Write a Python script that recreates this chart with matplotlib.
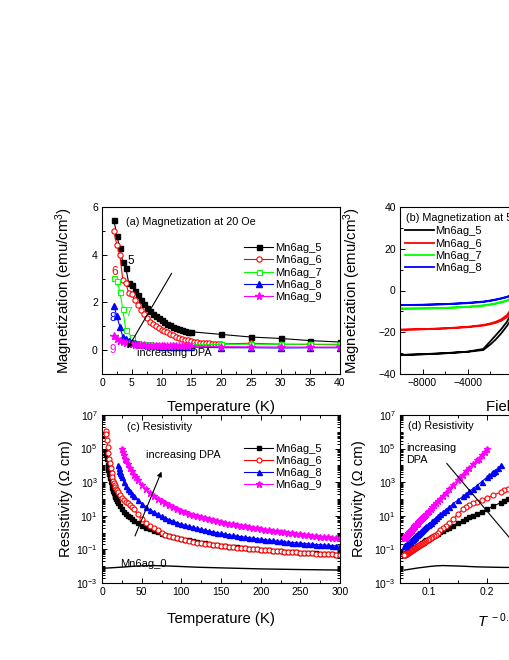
import numpy as np
import matplotlib
matplotlib.use('Agg')
import matplotlib.pyplot as plt
from matplotlib import ticker

plt.rcParams['font.family'] = ['Liberation Sans', 'DejaVu Sans']
plt.rcParams['mathtext.fontset'] = 'custom'
plt.rcParams['mathtext.rm'] = 'Liberation Sans'
plt.rcParams['mathtext.it'] = 'Liberation Sans:italic'
plt.rcParams['mathtext.bf'] = 'Liberation Sans:bold'

# ---------------- (a) magnetization vs temperature ----------------
Ta5 = [2, 2.5, 3, 3.5, 4, 4.5, 5, 5.5, 6, 6.5, 7, 7.5, 8, 8.5, 9, 9.5, 10, 10.5, 11, 11.5,
       12, 12.5, 13, 13.5, 14, 14.5, 15, 20, 25, 30, 35, 40]
Ma5 = [5.45, 4.8, 4.27, 3.68, 3.45, 2.8, 2.72, 2.5, 2.3, 2.1, 1.92, 1.76, 1.62, 1.53, 1.45, 1.35,
       1.27, 1.19, 1.11, 1.04, 0.98, 0.92, 0.87, 0.83, 0.79, 0.78, 0.77, 0.66, 0.55, 0.49, 0.40, 0.34]
Ta6 = [2, 2.5, 3, 3.5, 4, 4.5, 5, 5.5, 6, 6.5, 7, 7.5, 8, 8.5, 9, 9.5, 10, 10.5, 11, 11.5,
       12, 12.5, 13, 13.5, 14, 14.5, 15, 15.5, 16, 16.5, 17, 17.5, 18, 18.5, 19, 19.5, 20,
       25, 30, 35, 40]
Ma6 = [4.98, 4.4, 3.99, 2.96, 2.8, 2.38, 2.35, 2.1, 1.89, 1.7, 1.5, 1.33, 1.2, 1.1, 1.0, 0.93,
       0.86, 0.8, 0.75, 0.68, 0.62, 0.56, 0.52, 0.48, 0.44, 0.41, 0.38, 0.36, 0.34, 0.32, 0.31,
       0.29, 0.28, 0.27, 0.27, 0.26, 0.26, 0.29, 0.25, 0.24, 0.22]
Ta7 = [2, 2.5, 3, 3.5, 4, 5, 6, 7, 8, 9, 10, 12, 15, 20, 25, 30, 35, 40]
Ma7 = [3.02, 2.9, 2.45, 1.71, 0.84, 0.56, 0.3, 0.25, 0.24, 0.23, 0.23, 0.22, 0.22, 0.24, 0.25,
       0.24, 0.25, 0.25]
Ta8 = [2, 2.5, 3, 3.5, 4, 4.5, 5, 5.5, 6, 7, 8, 9, 10, 11, 12, 13, 14, 15, 20, 25, 30, 35, 40]
Ma8 = [1.85, 1.43, 0.98, 0.56, 0.45, 0.4, 0.35, 0.3, 0.25, 0.2, 0.18, 0.16, 0.15, 0.14, 0.14,
       0.13, 0.13, 0.13, 0.1, 0.1, 0.09, 0.1, 0.1]
Ta9 = [2, 2.5, 3, 3.5, 4, 4.5, 5, 5.5, 6, 6.5, 7, 7.5, 8, 8.5, 9, 9.5, 10, 10.5, 11, 11.5,
       12, 12.5, 13, 13.5, 14, 14.5, 15, 20, 25, 30, 35, 40]
Ma9 = [0.59, 0.45, 0.38, 0.33, 0.29, 0.26, 0.24, 0.22, 0.21, 0.2, 0.2, 0.19, 0.19, 0.19, 0.18,
       0.18, 0.18, 0.18, 0.18, 0.18, 0.18, 0.18, 0.18, 0.17, 0.17, 0.17, 0.17, 0.15, 0.14, 0.13,
       0.13, 0.13]

# ---------------- (b) hysteresis loops (ascending branch) ----------------
H = [-10000, -8000, -6000, -4000, -2600, -2000, -1500, -1000, -500, -200, 0,
     200, 500, 1000, 1500, 2000, 2600, 4000, 6000, 8000, 10000]
Mb5 = [-30.9, -30.6, -30.1, -29.4, -28.5, -26.0, -23.5, -20.5, -17.0, -14.5, -8.0,
       12.0, 15.0, 18.5, 21.5, 24.5, 28.0, 29.3, 30.0, 30.5, 30.9]
Mb6 = [-18.8, -18.6, -18.2, -17.6, -16.8, -16.2, -15.5, -14.5, -12.8, -10.8, -4.0,
       9.5, 11.8, 13.8, 15.0, 15.8, 16.5, 17.4, 18.1, 18.5, 18.8]
Mb7 = [-8.7, -8.6, -8.4, -7.9, -7.3, -6.9, -6.4, -5.8, -5.0, -4.3, -1.5,
       4.0, 4.7, 5.4, 6.1, 6.6, 7.1, 7.8, 8.3, 8.6, 8.7]
Mb8 = [-7.0, -6.9, -6.6, -6.1, -5.5, -5.0, -4.5, -3.9, -3.2, -2.6, -1.0,
       2.4, 3.0, 3.7, 4.3, 4.8, 5.3, 5.9, 6.5, 6.8, 7.0]

# ---------------- (c)/(d) resistivity, log10(rho / Ohm cm) ----------------
T_grid = np.arange(20, 301, 5)
T5_lo = [5, 5.5, 6, 7, 8, 9, 10, 11, 12, 13, 14, 15, 16, 17, 18, 19, 22.5, 27.5, 32.5, 37.5]
L5_lo = [4.8, 4.6, 4.4, 4.05, 3.75, 3.48, 3.25, 3.02, 2.82, 2.63, 2.47, 2.33, 2.2, 2.09, 1.98,
         1.88, 1.58, 1.25, 1.0, 0.8]
L5_grid = [1.78, 1.40, 1.12, 0.90, 0.72, 0.56, 0.42, 0.30, 0.20, 0.11, 0.02, -0.06, -0.13, -0.20,
           -0.26, -0.32, -0.37, -0.42, -0.47, -0.52, -0.56, -0.60, -0.64, -0.68, -0.71, -0.74,
           -0.77, -0.80, -0.83, -0.86, -0.88, -0.91, -0.93, -0.95, -0.97, -0.99, -1.01, -1.03,
           -1.05, -1.07, -1.09, -1.11, -1.13, -1.14, -1.16, -1.17, -1.19, -1.20, -1.22, -1.23,
           -1.24, -1.26, -1.27, -1.28, -1.30, -1.31, -1.32]
T6_lo = [4.5, 5, 5.5, 6, 7, 8, 9, 10, 11, 12, 13, 14, 15, 16, 17, 18, 19, 22.5, 27.5, 32.5, 37.5]
L6_lo = [5.9, 6.05, 5.85, 5.5, 5.1, 4.72, 4.4, 4.12, 3.85, 3.55, 3.3, 3.1, 2.95, 2.85, 2.73,
         2.62, 2.52, 2.22, 1.92, 1.74, 1.5]
L6_grid = [2.42, 2.05, 1.82, 1.62, 1.38, 1.08, 0.80, 0.58, 0.40, 0.26, 0.13, 0.00, -0.12, -0.20,
           -0.27, -0.34, -0.40, -0.45, -0.50, -0.55, -0.59, -0.63, -0.66, -0.70, -0.73, -0.76,
           -0.79, -0.82, -0.84, -0.87, -0.89, -0.92, -0.94, -0.96, -0.98, -1.00, -1.02, -1.04,
           -1.06, -1.08, -1.10, -1.12, -1.14, -1.15, -1.17, -1.18, -1.20, -1.21, -1.23, -1.24,
           -1.25, -1.27, -1.28, -1.29, -1.30, -1.32, -1.33]
T8_lo = [21, 22, 22.5, 23, 24, 27.5, 32.5, 37.5]
L8_lo = [3.82, 3.66, 3.6, 3.52, 3.4, 3.03, 2.61, 2.29]
L8_grid = [4.00, 3.30, 2.80, 2.45, 2.15, 1.92, 1.72, 1.52, 1.37, 1.23, 1.10, 0.98, 0.87, 0.77,
           0.67, 0.58, 0.50, 0.43, 0.37, 0.31, 0.25, 0.19, 0.14, 0.09, 0.04, 0.00, -0.05, -0.09,
           -0.13, -0.17, -0.20, -0.24, -0.27, -0.30, -0.33, -0.36, -0.39, -0.42, -0.45, -0.47,
           -0.50, -0.52, -0.55, -0.57, -0.59, -0.61, -0.63, -0.65, -0.67, -0.69, -0.71, -0.72,
           -0.74, -0.76, -0.77, -0.79, -0.80]
T9_lo = [26, 27.5, 29, 32.5, 37.5, 42.5]
L9_lo = [4.8, 4.6, 4.41, 4.06, 3.64, 3.29]
L9_grid = [4.95, 4.30, 3.85, 3.45, 3.15, 2.85, 2.60, 2.38, 2.19, 2.02, 1.87, 1.74, 1.62, 1.50,
           1.40, 1.30, 1.21, 1.13, 1.05, 0.98, 0.91, 0.85, 0.79, 0.74, 0.68, 0.63, 0.58, 0.54,
           0.49, 0.45, 0.41, 0.37, 0.33, 0.29, 0.25, 0.21, 0.18, 0.14, 0.11, 0.07, 0.04, 0.01,
           -0.02, -0.05, -0.08, -0.11, -0.14, -0.16, -0.19, -0.22, -0.24, -0.27, -0.29, -0.31,
           -0.33, -0.35]
T0 = [2, 10, 20, 30, 40, 50, 60, 65, 70, 80, 100, 120, 150, 200, 250, 300]
L0 = [-2.12, -2.1, -2.07, -2.04, -2.0, -1.98, -1.97, -1.96, -1.97, -1.98, -2.02, -2.06, -2.1,
      -2.16, -2.2, -2.23]

labels_a = ['Mn6ag_5', 'Mn6ag_6', 'Mn6ag_7', 'Mn6ag_8', 'Mn6ag_9']
GREEN = '#00ff00'
MAG = '#ff00ff'


def series(Tlo, Llo, Tg, Lg):
    T = np.concatenate([np.asarray(Tlo, float), np.asarray(Tg, float)])
    L = np.concatenate([np.asarray(Llo, float), np.asarray(Lg, float)])
    o = np.argsort(T)
    return T[o], 10.0 ** L[o]


T5, R5 = series(T5_lo, L5_lo, T_grid, L5_grid)
T6, R6 = series(T6_lo, L6_lo, T_grid, L6_grid)
T8, R8 = series(T8_lo, L8_lo, T_grid, L8_grid)
T9, R9 = series(T9_lo, L9_lo, T_grid[1:], L9_grid)
T0a = np.asarray(T0, float)
R0 = 10.0 ** np.asarray(L0)

fig = plt.figure(figsize=(5.1, 6.6), dpi=100)
W, Hh = 510.0, 660.0


def add_ax(x0, ytop, w, h):
    return fig.add_axes([x0 / W, (Hh - ytop - h) / Hh, w / W, h / Hh])


axA = add_ax(102, 207, 238, 167)
axB = add_ax(400, 207, 238, 167)
axC = add_ax(102, 415, 238, 168)
axD = add_ax(400, 415, 238, 168)

TICK_FS = 7.5
LAB_FS = 10.7
for ax in (axA, axB, axC, axD):
    for s in ax.spines.values():
        s.set_linewidth(0.8)
    ax.tick_params(which='both', direction='in', labelsize=TICK_FS, width=0.7, pad=3)
    ax.tick_params(which='major', length=3.5)
    ax.tick_params(which='minor', length=2)
for ax in (axC, axD):
    ax.tick_params(which='both', top=True, right=True)

lw = 0.8
# ---------- (a)
axA.plot(Ta5, Ma5, '-s', color='k', ms=3.6, lw=lw, label=labels_a[0])
axA.plot(Ta6, Ma6, '-o', color='red', mfc='white', ms=3.8, mew=0.8, lw=lw, label=labels_a[1])
axA.plot(Ta7, Ma7, '-s', color=GREEN, mfc='white', ms=3.6, mew=0.8, lw=lw, label=labels_a[2])
axA.plot(Ta8, Ma8, '-^', color='blue', ms=4, lw=lw, label=labels_a[3])
axA.plot(Ta9, Ma9, '-*', color=MAG, ms=5.5, lw=lw, label=labels_a[4])
axA.set_xlim(0, 40)
axA.set_ylim(-1, 6)
axA.xaxis.set_major_locator(ticker.MultipleLocator(5))
axA.xaxis.set_minor_locator(ticker.MultipleLocator(2.5))
axA.yaxis.set_major_locator(ticker.MultipleLocator(2))
axA.yaxis.set_minor_locator(ticker.MultipleLocator(1))
axA.set_xlabel('Temperature (K)', fontsize=LAB_FS)
axA.set_ylabel('Magnetization (emu/cm$^3$)', fontsize=LAB_FS)
axA.xaxis.set_label_coords(0.5, -0.156)
axA.yaxis.set_label_coords(-0.113, 0.5)
axA.text(0.1, 0.912, '(a) Magnetization at 20 Oe', transform=axA.transAxes,
         fontsize=7.8, ha='left', va='center')
axA.legend(loc='upper left', bbox_to_anchor=(0.597, 0.784), frameon=False, fontsize=8,
           handlelength=2.6, handletextpad=0.15, labelspacing=0.2, borderpad=0,
           borderaxespad=0, numpoints=1)
for txt, x, y, c in [('5', 4.9, 3.75, 'k'), ('6', 2.2, 3.28, 'red'), ('7', 4.4, 1.57, GREEN),
                     ('8', 1.8, 1.36, 'blue'), ('9', 1.8, 0.0, MAG)]:
    axA.text(x, y, txt, color=c, fontsize=8.5, ha='center', va='center')
axA.annotate('', xy=(4.3, 0.07), xytext=(11.7, 3.22),
             arrowprops=dict(arrowstyle='-|>', color='k', lw=0.8, mutation_scale=7,
                             shrinkA=0, shrinkB=0))
axA.text(5.8, -0.13, 'increasing DPA', fontsize=7.8, ha='left', va='center')

# ---------- (b)
Harr = np.asarray(H, float)
for M, c, lab in [(Mb5, 'k', 'Mn6ag_5'), (Mb6, 'red', 'Mn6ag_6'),
                  (Mb7, GREEN, 'Mn6ag_7'), (Mb8, 'blue', 'Mn6ag_8')]:
    Ma = np.asarray(M, float)
    axB.plot(np.concatenate([Harr, -Harr]), np.concatenate([Ma, -Ma]), color=c, lw=1.3,
             label=lab)
axB.set_xlim(-10000, 11150)
axB.set_ylim(-40, 40)
axB.xaxis.set_major_locator(ticker.MultipleLocator(4000))
axB.xaxis.set_minor_locator(ticker.MultipleLocator(2000))
axB.yaxis.set_major_locator(ticker.MultipleLocator(20))
axB.yaxis.set_minor_locator(ticker.MultipleLocator(10))
axB.set_xlabel('Field (Oe)', fontsize=LAB_FS)
axB.set_ylabel('Magnetization (emu/cm$^3$)', fontsize=LAB_FS)
axB.xaxis.set_label_coords(0.5, -0.156)
axB.yaxis.set_label_coords(-0.155, 0.5)
axB.text(0.025, 0.934, '(b) Magnetization at 5 K', transform=axB.transAxes,
         fontsize=7.8, ha='left', va='center')
axB.legend(loc='upper left', bbox_to_anchor=(0.021, 0.884), frameon=False, fontsize=8,
           handlelength=2.6, handletextpad=0.15, labelspacing=0.2, borderpad=0,
           borderaxespad=0)


# ---------- (c) and (d)
def draw_rho(ax, xf):
    ax.plot(xf(T5), R5, '-s', color='k', ms=3.0, lw=lw, label='Mn6ag_5')
    ax.plot(xf(T6), R6, '-o', color='red', mfc='white', ms=3.6, mew=0.8, lw=lw, label='Mn6ag_6')
    ax.plot(xf(T8), R8, '-^', color='blue', ms=3.6, lw=lw, label='Mn6ag_8')
    ax.plot(xf(T9), R9, '-*', color=MAG, ms=5, lw=lw, label='Mn6ag_9')
    ax.plot(xf(T0a), R0, '-', color='k', lw=1.0)
    ax.set_yscale('log')
    ax.set_ylim(1e-3, 1e7)
    ax.yaxis.set_major_locator(ticker.FixedLocator([1e-3, 1e-1, 1e1, 1e3, 1e5, 1e7]))
    ax.yaxis.set_major_formatter(ticker.LogFormatterMathtext())
    ax.yaxis.set_minor_locator(ticker.LogLocator(base=10, subs=np.arange(1, 10) * 1.0, numticks=30))
    ax.yaxis.set_minor_formatter(ticker.NullFormatter())
    ax.set_ylabel('Resistivity (\u03a9 cm)', fontsize=LAB_FS)


draw_rho(axC, lambda t: t)
axC.set_xlim(0, 300)
axC.xaxis.set_major_locator(ticker.MultipleLocator(50))
axC.xaxis.set_minor_locator(ticker.MultipleLocator(25))
axC.set_xlabel('Temperature (K)', fontsize=LAB_FS)
axC.xaxis.set_label_coords(0.5, -0.171)
axC.yaxis.set_label_coords(-0.122, 0.5)
axC.text(0.104, 0.930, '(c) Resistivity', transform=axC.transAxes, fontsize=7.8,
         ha='left', va='center')
axC.legend(loc='upper left', bbox_to_anchor=(0.597, 0.830), frameon=False, fontsize=8,
           handlelength=2.6, handletextpad=0.15, labelspacing=0.2, borderpad=0,
           borderaxespad=0, numpoints=1)
axC.text(56, 10 ** 4.62, 'increasing DPA', fontsize=7.8, ha='left', va='center')
axC.annotate('', xy=(75, 10 ** 3.63), xytext=(41.6, 10 ** -0.2),
             arrowprops=dict(arrowstyle='-|>', color='k', lw=0.8, mutation_scale=7,
                             shrinkA=0, shrinkB=0))
axC.text(22.7, 10 ** -1.87, 'Mn6ag_0', fontsize=8, ha='left', va='center')

draw_rho(axD, lambda t: np.asarray(t, float) ** -0.5)
axD.set_xlim(0.05, 0.46)
axD.xaxis.set_major_locator(ticker.MultipleLocator(0.1))
axD.xaxis.set_minor_locator(ticker.MultipleLocator(0.05))
axD.set_xlabel('$T^{\\ -0.5}$ (K$^{-0.5}$)', fontsize=LAB_FS)
axD.xaxis.set_label_coords(0.5, -0.171)
axD.yaxis.set_label_coords(-0.143, 0.5)
axD.text(0.035, 0.935, '(d) Resistivity', transform=axD.transAxes, fontsize=7.8,
         ha='left', va='center')
axD.text(0.0603, 10 ** 4.68, 'increasing\nDPA', fontsize=7.8, ha='left', va='center',
         linespacing=1.3)
axD.annotate('', xy=(0.26, 10 ** -1.18), xytext=(0.1305, 10 ** 4.12),
             arrowprops=dict(arrowstyle='-|>', color='k', lw=0.8, mutation_scale=7,
                             shrinkA=0, shrinkB=0))

fig.savefig('out.png', dpi=100)
